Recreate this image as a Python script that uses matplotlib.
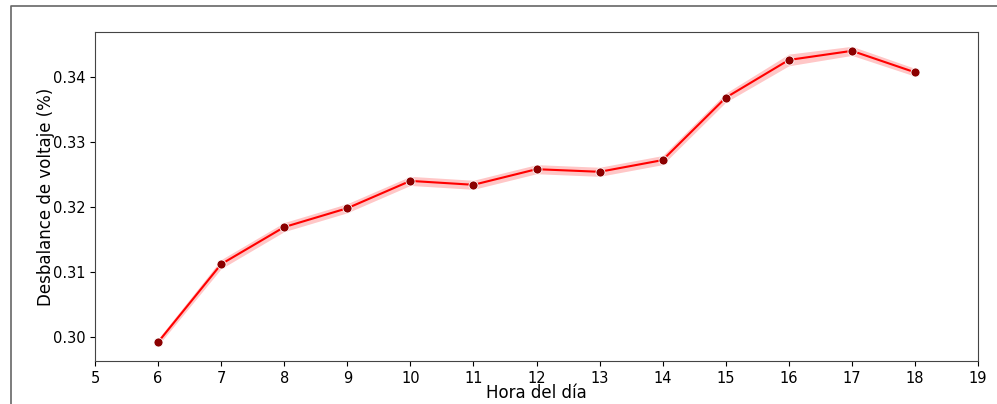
import matplotlib
matplotlib.use("Agg")
import matplotlib.pyplot as plt
from matplotlib.lines import Line2D

# mean voltage imbalance per hour, with the confidence band around it
hours = [6, 7, 8, 9, 10, 11, 12, 13, 14, 15, 16, 17, 18]
mean_imb = [0.2992, 0.3112, 0.3169, 0.3198, 0.3240, 0.3234, 0.3258,
            0.3254, 0.3272, 0.3368, 0.3426, 0.3440, 0.3407]
ci_half = [0.0005, 0.0007, 0.0007, 0.0007, 0.0007, 0.0007, 0.0007,
           0.0007, 0.0007, 0.0007, 0.0009, 0.0007, 0.0006]

lower = [m - h for m, h in zip(mean_imb, ci_half)]
upper = [m + h for m, h in zip(mean_imb, ci_half)]

fig = plt.figure(figsize=(9.97, 4.04), dpi=100)
ax = fig.add_axes([0.0953, 0.1064, 0.8857, 0.8144])

ax.fill_between(hours, lower, upper, color="red", alpha=0.22, linewidth=0)
ax.plot(hours, mean_imb, color="red", linewidth=1.5, marker="o",
        markersize=6.5, markerfacecolor="darkred", markeredgecolor="white",
        markeredgewidth=0.6)

ax.set_xlim(5, 19)
ax.set_xticks(range(5, 20))
ax.set_ylim(0.2963, 0.3469)
ax.set_yticks([0.30, 0.31, 0.32, 0.33, 0.34])
ax.set_yticklabels(["0.30", "0.31", "0.32", "0.33", "0.34"])
ax.tick_params(labelsize=10.5)
for s in ax.spines.values():
    s.set_color("#444444")

ax.set_xlabel("Hora del día", fontsize=12, labelpad=-1)
ax.set_ylabel("Desbalance de voltaje (%)", fontsize=12, labelpad=-2)

# outer frame edge around the figure
x0 = 10.5 / 997
y0 = 1 - 5.5 / 404
fig.add_artist(Line2D([x0, x0, 1], [0, y0, y0], transform=fig.transFigure,
                      color="#666666", linewidth=1.2))

fig.savefig("out.png", dpi=100)
